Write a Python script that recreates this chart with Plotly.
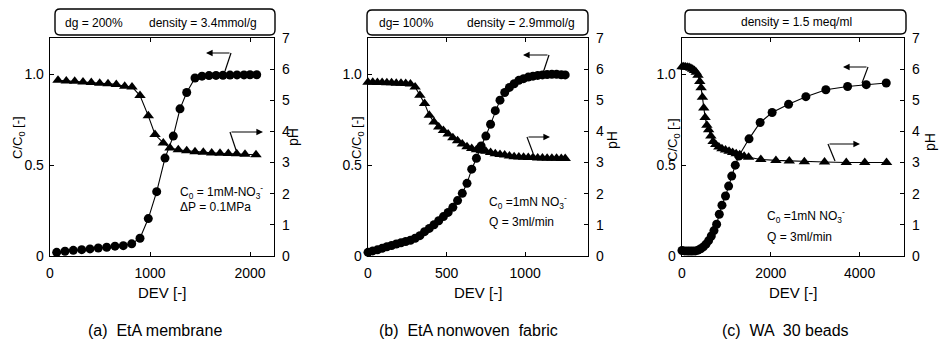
import plotly.graph_objects as go

# ---------------- data ----------------
# (a) EtA membrane
A_dev_c = [67, 150, 233, 317, 400, 483, 567, 650, 733, 817, 900, 983, 1067, 1150, 1233, 1300,
           1367, 1450, 1520, 1590, 1660, 1730, 1800, 1870, 1940, 2000, 2067]
A_c = [0.02, 0.026, 0.031, 0.035, 0.039, 0.044, 0.048, 0.054, 0.057, 0.067, 0.098, 0.206, 0.354,
       0.539, 0.66, 0.81, 0.90, 0.98, 0.99, 0.993, 0.994, 0.995, 0.996, 0.997, 0.997, 0.998, 0.998]
A_dev_ph = [80, 163, 247, 330, 413, 497, 580, 663, 747, 820, 900, 983, 1050, 1133, 1200, 1283,
            1367, 1450, 1533, 1617, 1700, 1783, 1867, 1950, 2060]
A_ph = [5.64, 5.62, 5.61, 5.59, 5.57, 5.55, 5.53, 5.51, 5.45, 5.43, 5.15, 4.50, 3.90, 3.63, 3.47,
        3.41, 3.38, 3.35, 3.33, 3.31, 3.30, 3.29, 3.28, 3.27, 3.25]

# (b) EtA nonwoven fabric
B_dev = [0, 30, 60, 90, 120, 150, 180, 210, 240, 270, 300, 330, 360, 390, 420, 450, 480, 510,
         540, 570, 600, 630, 660, 690, 720, 750, 780, 810, 840, 870, 900, 930, 960, 990, 1020,
         1050, 1080, 1110, 1140, 1170, 1200, 1230, 1255]
B_c = [0.02, 0.028, 0.034, 0.042, 0.051, 0.058, 0.066, 0.073, 0.08, 0.087, 0.098, 0.112, 0.134,
       0.152, 0.172, 0.194, 0.217, 0.24, 0.268, 0.305, 0.345, 0.4, 0.478, 0.538, 0.606, 0.66,
       0.725, 0.8, 0.858, 0.9, 0.928, 0.948, 0.967, 0.976, 0.985, 0.99, 0.994, 0.997, 0.999,
       1.0, 1.0, 0.998, 0.997]
B_ph = [5.58, 5.58, 5.57, 5.57, 5.56, 5.56, 5.55, 5.55, 5.54, 5.52, 5.43, 5.16, 4.9, 4.52, 4.3,
        4.14, 4.03, 3.92, 3.8, 3.7, 3.6, 3.51, 3.45, 3.41, 3.38, 3.36, 3.32, 3.28, 3.26, 3.24,
        3.21, 3.19, 3.18, 3.17, 3.16, 3.16, 3.15, 3.15, 3.14, 3.14, 3.14, 3.13, 3.13]

# (c) WA 30 beads
C_dev_c = [0, 60, 120, 180, 240, 300, 360, 420, 480, 540, 600, 660, 720, 780, 840, 900, 980,
           1050, 1120, 1200, 1280, 1510, 1760, 2030, 2400, 2790, 3240, 3730, 4150, 4600]
C_c = [0.03, 0.028, 0.027, 0.027, 0.027, 0.028, 0.032, 0.04, 0.05, 0.065, 0.085, 0.11, 0.14,
       0.175, 0.23, 0.28, 0.33, 0.385, 0.44, 0.5, 0.55, 0.645, 0.735, 0.79, 0.835, 0.877, 0.915,
       0.933, 0.943, 0.952]
C_dev_ph = [0, 40, 80, 120, 160, 200, 240, 280, 320, 360, 400, 430, 460, 490, 520, 560, 600, 650,
            700, 760, 830, 900, 980, 1060, 1140, 1220, 1300, 1400, 1500, 1775, 2115, 2416, 2756,
            3210, 3700, 4116, 4607]
C_ph = [6.08, 6.08, 6.07, 6.06, 6.05, 6.03, 6.0, 5.96, 5.9, 5.8, 5.6, 5.4, 5.1, 4.75, 4.45, 4.2,
        4.05, 3.85, 3.68, 3.58, 3.5, 3.44, 3.4, 3.36, 3.32, 3.28, 3.25, 3.2, 3.17, 3.1, 3.07, 3.05,
        3.03, 3.02, 3.0, 3.0, 3.0]

# tick labels / texts
C_TICKS = [0, 0.5, 1.0]
C_TICKTEXT = ["0", "0.5", "1.0"]
PH_TICKS = [0, 1, 2, 3, 4, 5, 6, 7]
X_TICKS = [[0, 1000, 2000], [0, 500, 1000], [0, 2000, 4000]]
X_RANGES = [[0, 2240], [0, 1400], [0, 5000]]
CAPTIONS = ["(a)  EtA membrane", "(b)  EtA nonwoven  fabric", "(c)  WA  30 beads"]

# ---------------- layout helpers ----------------
W, H = 941, 343
FONT = "Liberation Sans, Arial, Helvetica, sans-serif"


def fx(X):
    return X / W


def fy(Y):
    return 1 - Y / H


PANEL_X = [(50, 274), (368, 588), (682, 904)]
TOP, BOT = 38, 256

fig = go.Figure()

series = [
    (A_dev_c, A_c, A_dev_ph, A_ph),
    (B_dev, B_c, B_dev, B_ph),
    (C_dev_c, C_c, C_dev_ph, C_ph),
]

layout_axes = {}
for i, (xc, yc, xp, yp) in enumerate(series):
    xa = "x" if i == 0 else f"x{i + 1}"
    yl = "y" if i == 0 else f"y{2 * i + 1}"
    yr = f"y{2 * i + 2}"
    fig.add_trace(go.Scatter(
        x=xc, y=yc, xaxis=xa, yaxis=yl, mode="lines+markers", cliponaxis=False,
        line=dict(color="black", width=1.1),
        marker=dict(symbol="circle", size=9, color="black"), showlegend=False))
    fig.add_trace(go.Scatter(
        x=xp, y=yp, xaxis=xa, yaxis=yr, mode="lines+markers", cliponaxis=False,
        line=dict(color="black", width=1.1),
        marker=dict(symbol="triangle-up", size=10, color="black"), showlegend=False))

    common = dict(showline=True, linecolor="black", linewidth=1.3, ticks="inside", ticklen=4,
                  tickwidth=1, tickcolor="black", showgrid=False, zeroline=False,
                  automargin=False,
                  tickfont=dict(family=FONT, size=14, color="black"))
    xk = "xaxis" if i == 0 else f"xaxis{i + 1}"
    ylk = "yaxis" if i == 0 else f"yaxis{2 * i + 1}"
    yrk = f"yaxis{2 * i + 2}"
    x0, x1 = PANEL_X[i]
    layout_axes[xk] = dict(domain=[fx(x0), fx(x1)], range=X_RANGES[i], tickvals=X_TICKS[i],
                           anchor=yl, mirror="ticks", ticklabelstandoff=4, **common)
    layout_axes[ylk] = dict(domain=[fy(BOT), fy(TOP)], range=[0, 1.2], tickvals=C_TICKS,
                            ticktext=C_TICKTEXT, anchor=xa, ticklabelstandoff=2, **common)
    layout_axes[yrk] = dict(domain=[fy(BOT), fy(TOP)], range=[0, 7], tickvals=PH_TICKS,
                            anchor=xa, overlaying=yl, side="right", ticklabelstandoff=4, **common)

fig.update_layout(width=W, height=H, margin=dict(l=0, r=0, t=0, b=0),
                  paper_bgcolor="white", plot_bgcolor="white", hovermode=False,
                  font=dict(family=FONT, color="black"), showlegend=False, **layout_axes)

ann = []
shapes = []


def text(X, Y, s, size=13, xanchor="center", angle=0):
    ann.append(dict(x=fx(X), y=fy(Y), xref="paper", yref="paper", text=s, showarrow=False,
                    xanchor=xanchor, yanchor="middle", textangle=angle,
                    font=dict(family=FONT, size=size, color="black")))


def rbox(X0, Y0, X1, Y1, r=5):
    rx, ry = r / W, r / H
    a, b = fx(X0), fx(X1)
    top, bot = fy(Y0), fy(Y1)
    p = (f"M {a + rx},{top} L {b - rx},{top} Q {b},{top} {b},{top - ry} "
         f"L {b},{bot + ry} Q {b},{bot} {b - rx},{bot} L {a + rx},{bot} "
         f"Q {a},{bot} {a},{bot + ry} L {a},{top - ry} Q {a},{top} {a + rx},{top} Z")
    shapes.append(dict(type="path", xref="paper", yref="paper", path=p,
                       line=dict(color="black", width=1.4)))


def bent_arrow(sx, sy, cx, cy, tx, ty):
    shapes.append(dict(type="line", xref="paper", yref="paper", x0=fx(sx), y0=fy(sy),
                       x1=fx(cx), y1=fy(cy), line=dict(color="black", width=1.2)))
    ann.append(dict(x=fx(tx), y=fy(ty), xref="paper", yref="paper", text="", showarrow=True,
                    ax=cx - tx, ay=cy - ty, axref="pixel", ayref="pixel", arrowhead=2,
                    arrowsize=1.1, arrowwidth=1.2, arrowcolor="black"))


# top boxes
rbox(55, 9, 275, 35)
text(94, 23, "dg = 200%", 12)
text(203, 23, "density = 3.4mmol/g", 12)
rbox(367, 10, 588, 35)
text(406, 23, "dg= 100%", 12)
text(521, 23, "density = 2.9mmol/g", 12)
rbox(685, 10, 906, 34)
text(796, 22, "density = 1.5 meq/ml", 12)

# axis titles
for (x0, x1), ly, rx_, ry_, cap_x, cap in zip(PANEL_X, [(18, 138), (357, 138), (673, 140)],
                                              [293, 612, 930], [137, 140, 142],
                                              [155, 468, 785], CAPTIONS):
    text(ly[0], ly[1], "C/C<sub>0</sub> [-]", 13, angle=-90)
    text(rx_, ry_, "pH", 14, angle=-90)
    text((x0 + x1) / 2, 292, "DEV [-]", 15)
    text(cap_x, 330, cap, 16)

# in-plot notes
text(178, 192, "C<sub>0</sub> = 1mM-NO<sub>3</sub><sup>-</sup>", 12, xanchor="left")
text(178, 207, "ΔP = 0.1MPa", 12, xanchor="left")
text(487, 202, "C<sub>0</sub> =1mN NO<sub>3</sub><sup>-</sup>", 12, xanchor="left")
text(487, 222, "Q = 3ml/min", 12, xanchor="left")
text(765, 216, "C<sub>0</sub> =1mN NO<sub>3</sub><sup>-</sup>", 12, xanchor="left")
text(765, 237, "Q = 3ml/min", 12, xanchor="left")

# arrows
bent_arrow(225, 71, 231, 53, 206, 53)
bent_arrow(236, 150, 230, 132, 263, 132)
bent_arrow(543, 73, 549, 55, 523, 55)
bent_arrow(533, 153, 527, 137, 550, 137)
bent_arrow(862, 83, 868, 67, 843, 67)
bent_arrow(835, 161, 828, 144, 860, 144)

fig.update_layout(annotations=ann, shapes=shapes)
fig.write_html("out.html", config={"displayModeBar": False, "staticPlot": True},
               post_script="document.body.style.margin='0px';"
                           "document.body.style.overflow='hidden';")
